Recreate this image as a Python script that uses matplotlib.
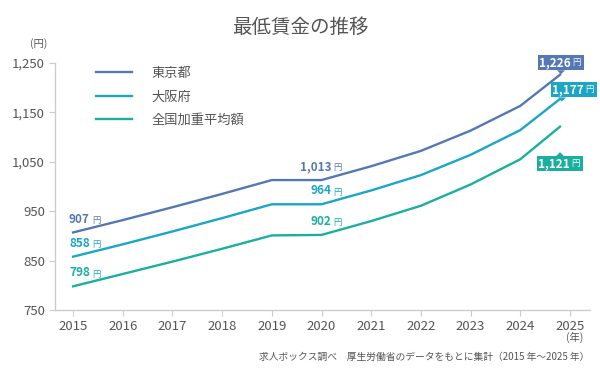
import matplotlib.pyplot as plt
from matplotlib.patches import Rectangle, Polygon
from matplotlib.transforms import ScaledTranslation

plt.rcParams['font.family'] = ['Noto Sans CJK JP', 'DejaVu Sans']

years = [2015, 2016, 2017, 2018, 2019, 2020, 2021, 2022, 2023, 2024, 2024.8]
tokyo = [907, 932, 958, 985, 1013, 1013, 1041, 1072, 1113, 1163, 1226]
osaka = [858, 883, 909, 936, 964, 964, 992, 1023, 1064, 1114, 1177]
zenkoku = [798, 823, 848, 874, 901, 902, 930, 961, 1004, 1055, 1121]
names = ['東京都', '大阪府', '全国加重平均額']
colors = ['#5478b4', '#1ba6c6', '#1aaf9e']
xticks = list(range(2015, 2026))
yticks = [750, 850, 950, 1050, 1150, 1250]

fig = plt.figure(figsize=(6, 3.7), dpi=100)
ax = fig.add_axes([0.092, 0.162, 0.891, 0.668])

series = [tokyo, osaka, zenkoku]
for vals, name, c in zip(series, names, colors):
    ax.plot(years, vals, color=c, lw=1.7, label=name)

ax.set_xlim(2014.64, 2025.4)
ax.set_ylim(750, 1250)
ax.set_xticks(xticks)
ax.set_yticks(yticks)
ax.set_yticklabels([f'{v:,}' for v in yticks])
ax.tick_params(colors='#cccccc', labelcolor='#555555', labelsize=9.5, length=4, width=0.8)
ax.tick_params(axis='x', pad=3)
for s in ['top', 'right']:
    ax.spines[s].set_visible(False)
for s in ['left', 'bottom']:
    ax.spines[s].set_color('#cccccc')
    ax.spines[s].set_linewidth(1.0)

leg = ax.legend(loc='upper left', bbox_to_anchor=(0.055, 1.032), frameon=False,
                handlelength=2.7, handletextpad=1.5, labelspacing=0.8, fontsize=9.5)
for t in leg.get_texts():
    t.set_color('#555555')

# start / middle labels (offsets in points)
for vals, c in zip(series, colors):
    for i, dx in [(0, 12), (5, 7)]:
        ax.annotate(f'{vals[i]:,}', (years[i], vals[i]), xytext=(dx, 5),
                    textcoords='offset points', ha='right', va='bottom',
                    fontsize=8.5, color=c, fontweight='bold')
        ax.annotate('円', (years[i], vals[i]), xytext=(dx + 1.5, 5.5),
                    textcoords='offset points', ha='left', va='bottom',
                    fontsize=6, color=c)

# end boxes (offsets in pixels from the last point, box center)
box_w, box_h = 46, 15
offsets = [(1, 12), (14, 9), (0, -37)]
for vals, c, (ox, oy) in zip(series, colors, offsets):
    x, y = years[-1], vals[-1]
    tr = fig.dpi_scale_trans + ScaledTranslation(x, y, ax.transData)
    cx, cy = ox / 100, oy / 100
    w, h = box_w / 100, box_h / 100
    ax.add_patch(Rectangle((cx - w / 2, cy - h / 2), w, h, fc=c, ec='none',
                           transform=tr, clip_on=False, zorder=4))
    px = cx - 0.12 if ox > 5 else cx
    if oy > 0:
        by = cy - h / 2
        tri = [(px - 0.04, by), (px + 0.04, by), (px, by - 0.04)]
    else:
        by = cy + h / 2
        tri = [(px - 0.04, by), (px + 0.04, by), (px, by + 0.04)]
    ax.add_patch(Polygon(tri, closed=True, fc=c, ec='none', transform=tr,
                         clip_on=False, zorder=4))
    ax.text(cx + 0.095, cy, f'{y:,}', transform=tr, ha='right', va='center',
            fontsize=8.5, color='white', fontweight='bold', zorder=5)
    ax.text(cx + 0.11, cy, '円', transform=tr, ha='left', va='center',
            fontsize=6, color='white', zorder=5)

fig.text(0.5, 0.925, '最低賃金の推移', ha='center', va='center', fontsize=14, color='#555555')
fig.text(0.065, 0.883, '(円)', ha='center', va='center', fontsize=7.5, color='#555555')
fig.text(0.958, 0.088, '(年)', ha='center', va='center', fontsize=7.5, color='#555555')
fig.text(0.983, 0.035, '求人ボックス調べ　厚生労働省のデータをもとに集計（2015 年～2025 年）',
         ha='right', va='center', fontsize=7, color='#555555')

fig.savefig('out.png', dpi=100, facecolor='white')
